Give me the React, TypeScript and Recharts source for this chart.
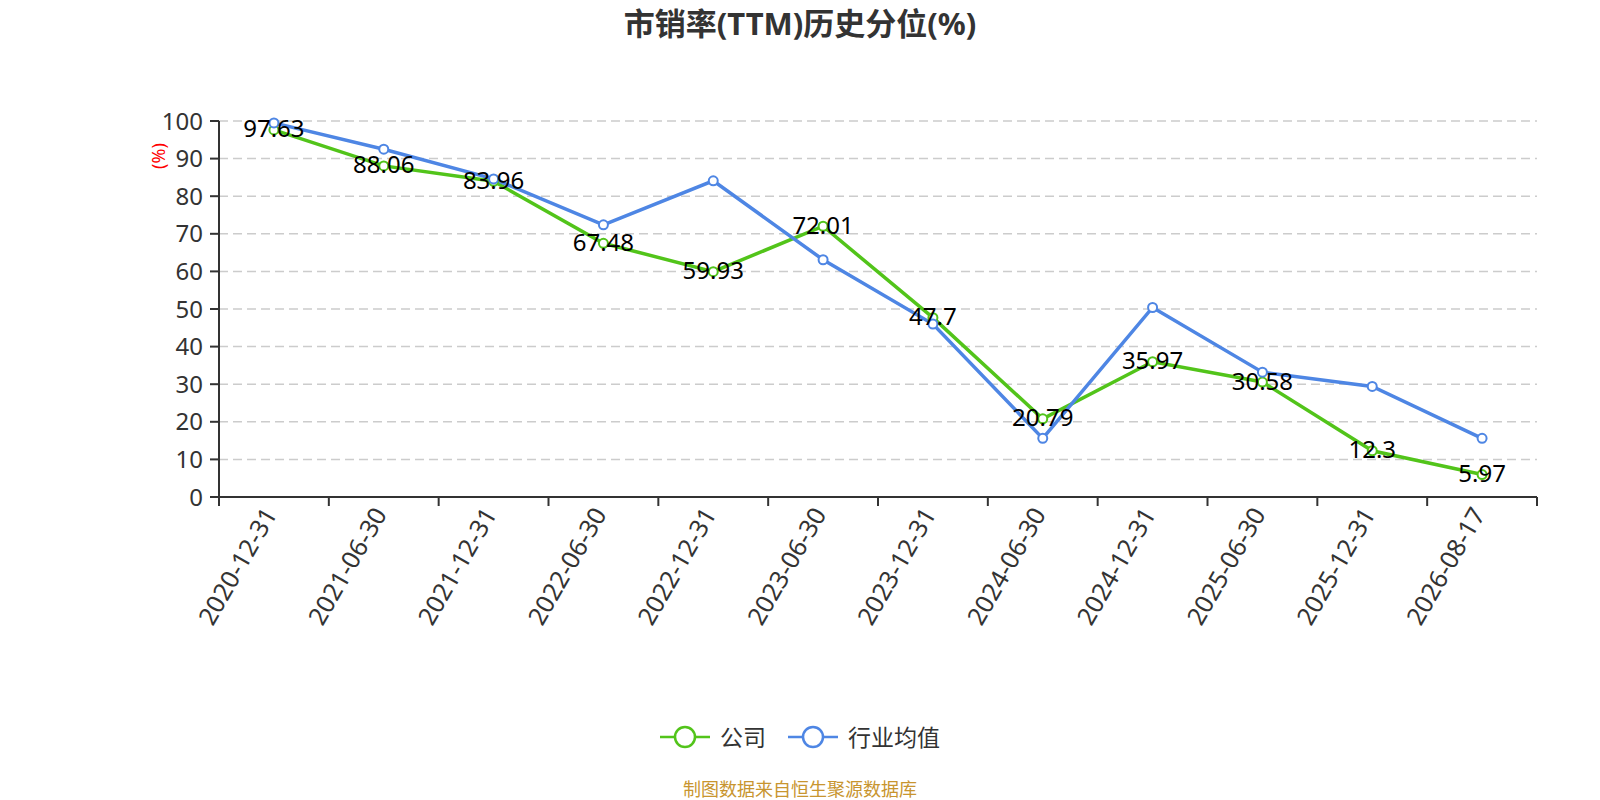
import React from 'react';
import { LineChart, Line, XAxis, YAxis, CartesianGrid } from 'recharts';

const dates = [
  '2020-12-31', '2021-06-30', '2021-12-31', '2022-06-30', '2022-12-31', '2023-06-30',
  '2023-12-31', '2024-06-30', '2024-12-31', '2025-06-30', '2025-12-31', '2026-08-17',
];
const company = [97.63, 88.06, 83.96, 67.48, 59.93, 72.01, 47.7, 20.79, 35.97, 30.58, 12.3, 5.97];
const industry = [99.5, 92.5, 84.6, 72.4, 84.1, 63.1, 46.0, 15.6, 50.4, 33.2, 29.4, 15.6];
const yTicks = [0, 10, 20, 30, 40, 50, 60, 70, 80, 90, 100];

const data = dates.map((d, i) => ({ date: d, company: company[i], industry: industry[i] }));

const GREEN = '#52c41a';
const BLUE = '#4e86e4';
const FONT = "'Noto Sans', 'Noto Sans CJK SC', sans-serif";

const PLOT_LEFT = 219;
const PLOT_RIGHT = 1537;
const BW = (PLOT_RIGHT - PLOT_LEFT) / dates.length;

const XTick = (props: any) => {
  const { x, y, payload, index } = props;
  const last = index === dates.length - 1;
  return (
    <g>
      <line x1={x - BW / 2} x2={x - BW / 2} y1={y} y2={y + 9} stroke="#333" strokeWidth={2} />
      {last && <line x1={x + BW / 2} x2={x + BW / 2} y1={y} y2={y + 9} stroke="#333" strokeWidth={2} />}
      <text
        x={x + 4}
        y={y + 17}
        textAnchor="end"
        fontSize={25}
        fill="#333"
        fontFamily={FONT}
        transform={`rotate(-60, ${x + 4}, ${y + 17})`}
      >
        {payload.value}
      </text>
    </g>
  );
};

const DataLabel = (props: any) => {
  const { x, y, value } = props;
  return (
    <text x={x} y={y - 2} textAnchor="middle" dominantBaseline="central" fontSize={24} fill="#000" fontFamily={FONT}>
      {value}
    </text>
  );
};

const LegendIcon = ({ color }: { color: string }) => (
  <svg width={50} height={24} style={{ display: 'block' }}>
    <line x1={0} x2={50} y1={12} y2={12} stroke={color} strokeWidth={2.5} />
    <circle cx={25} cy={12} r={10} fill="#fff" stroke={color} strokeWidth={2.5} />
  </svg>
);

export default function App() {
  return (
    <div style={{ position: 'absolute', left: 0, top: 0, width: 1600, height: 800, background: '#fff', fontFamily: FONT }}>
      <div
        style={{
          position: 'absolute', left: 0, top: 3, width: 1600, textAlign: 'center',
          fontSize: 31, fontWeight: 'bold', color: '#333', lineHeight: '40px',
        }}
      >
        市销率(TTM)历史分位(%)
      </div>
      <div style={{ position: 'absolute', left: 0, top: 0 }}>
        <LineChart width={1600} height={800} data={data} margin={{ top: 121, right: 63, left: 139, bottom: 153 }}>
          <CartesianGrid vertical={false} stroke="#ccc" strokeDasharray="9 5" strokeWidth={1.5} />
          <XAxis
            dataKey="date"
            interval={0}
            height={150}
            padding={{ left: BW / 2, right: BW / 2 }}
            axisLine={{ stroke: '#333', strokeWidth: 2 }}
            tickLine={false}
            tickSize={0}
            tickMargin={0}
            tick={<XTick />}
          />
          <YAxis
            width={80}
            domain={[0, 100]}
            ticks={yTicks}
            interval={0}
            axisLine={{ stroke: '#333', strokeWidth: 2 }}
            tickLine={{ stroke: '#333', strokeWidth: 2 }}
            tickSize={9}
            tickMargin={7}
            tick={{ fontSize: 24, fill: '#333', fontFamily: FONT }}
            label={{
              content: () => (
                <text
                  x={158}
                  y={156}
                  textAnchor="middle"
                  dominantBaseline="central"
                  fontSize={18}
                  fill="#ff0000"
                  fontFamily={FONT}
                  transform="rotate(-90, 158, 156)"
                >
                  (%)
                </text>
              ),
            }}
          />
          <Line
            type="linear"
            dataKey="company"
            stroke={GREEN}
            strokeWidth={3.5}
            dot={{ r: 4.5, fill: '#fff', stroke: GREEN, strokeWidth: 2 }}
            label={<DataLabel />}
            isAnimationActive={false}
          />
          <Line
            type="linear"
            dataKey="industry"
            stroke={BLUE}
            strokeWidth={3.5}
            dot={{ r: 4.5, fill: '#fff', stroke: BLUE, strokeWidth: 2 }}
            isAnimationActive={false}
          />
        </LineChart>
      </div>
      <div
        style={{
          position: 'absolute', left: 0, top: 722, width: 1600, display: 'flex',
          justifyContent: 'center', alignItems: 'center', fontSize: 23, color: '#333', lineHeight: '30px',
        }}
      >
        <LegendIcon color={GREEN} />
        <span style={{ marginLeft: 10, marginRight: 22 }}>公司</span>
        <LegendIcon color={BLUE} />
        <span style={{ marginLeft: 10 }}>行业均值</span>
      </div>
      <div
        style={{
          position: 'absolute', left: 0, top: 777, width: 1600, textAlign: 'center',
          fontSize: 18, color: '#c8952f', lineHeight: '24px',
        }}
      >
        制图数据来自恒生聚源数据库
      </div>
    </div>
  );
}
